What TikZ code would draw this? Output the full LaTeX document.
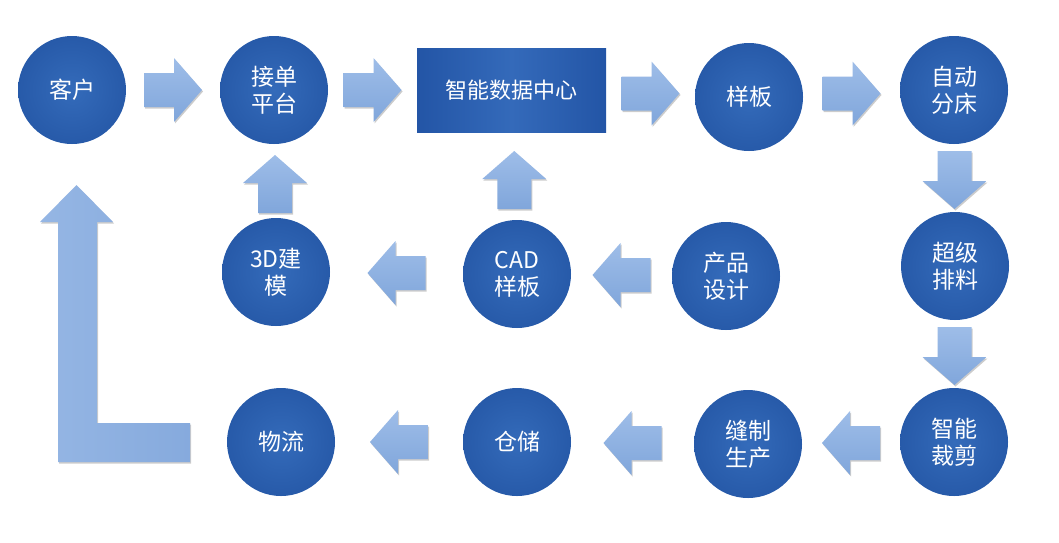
\documentclass[tikz,border=0pt]{standalone}
\usepackage{fontspec}
\newfontfamily\cjk{Noto Sans CJK SC}
\usetikzlibrary{calc,shadows}
\definecolor{cin}{HTML}{346BBA}
\definecolor{cout}{HTML}{275AA9}
\definecolor{rdark}{HTML}{2355A6}
\definecolor{rlight}{HTML}{346ABA}
\definecolor{ain}{HTML}{9EBDE8}
\definecolor{aout}{HTML}{80A6DB}
\definecolor{lin}{HTML}{95B6E4}
\definecolor{lout}{HTML}{86AADD}
\tikzset{
  circ/.style={circle, minimum size=108pt, inner sep=0pt, inner color=cin, outer color=cout,
    text=white, font=\cjk\fontsize{23}{27}\selectfont, align=center},
  databox/.style={rectangle, minimum width=189pt, minimum height=84pt, inner sep=0pt,
    left color=rdark, right color=rdark, middle color=rlight,
    text=white, font=\cjk\fontsize{22}{27}\selectfont},
  arrowfill/.style={top color=ain, bottom color=aout,
    drop shadow={shadow xshift=1pt, shadow yshift=-1.5pt, fill=black, opacity=0.2}},
  barrow/.pic={\path[arrowfill] (-29,-17) -- (1,-17) -- (1,-32) -- (29,0) -- (1,32) -- (1,17) -- (-29,17) -- cycle;}
}
\begin{document}
\begin{tikzpicture}[x=1pt,y=-1pt]
\path[use as bounding box, fill=white] (0,0) rectangle (1059,542);

% nodes
\node[circ] (kh) at (72,90) {客户};
\node[circ] (jd) at (274,90) {接单\\平台};
\node[databox] (data) at (511.5,90) {智能数据中心};
\node[circ] (yb) at (749,97) {样板};
\node[circ] (zd) at (954,90) {自动\\分床};

\node[circ] (jm) at (276,272) {3D建\\模};
\node[circ] (cad) at (517,274) {CAD\\样板};
\node[circ] (cp) at (726,276) {产品\\设计};
\node[circ] (cj) at (955,266) {超级\\排料};

\node[circ] (wl) at (281,442) {物流};
\node[circ] (cc) at (517,442) {仓储};
\node[circ] (fz) at (748,444) {缝制\\生产};
\node[circ] (zn) at (954,442) {智能\\裁剪};

% block arrows between nodes
\pic at ($(kh.east)!0.5!(jd.west)$) {barrow};
\pic at ($(jd.east)!0.5!(data.west)$) {barrow};
\pic at ($(data.east)!0.5!(yb.west)$) {barrow};
\pic at ($(yb.east)!0.5!(zd.west)$) {barrow};
\pic[rotate=-90] at ($(zd.south)!0.5!(cj.north)+(0,2)$) {barrow};
\pic[rotate=-90] at ($(cj.south)!0.5!(zn.north)+(0,2)$) {barrow};
\pic[rotate=180] at ($(zn.west)!0.5!(fz.east)$) {barrow};
\pic[rotate=180] at ($(fz.west)!0.5!(cc.east)$) {barrow};
\pic[rotate=180] at ($(cc.west)!0.5!(wl.east)$) {barrow};
\pic[rotate=180] at ($(cp.west)!0.5!(cad.east)$) {barrow};
\pic[rotate=180] at ($(cad.west)!0.5!(jm.east)$) {barrow};
\pic[rotate=90] at ($(jm.north)!0.5!(jd.south)+(0,3)$) {barrow};
\pic[rotate=90] at ($(cad.north)!0.5!(data.south)+(0,4)$) {barrow};

% L-shaped return arrow from 物流 to 客户
\path[left color=lin, right color=lout,
  drop shadow={shadow xshift=1pt, shadow yshift=-1.5pt, fill=black, opacity=0.2}]
  (58,462) -- (58,222) -- (40,222) -- (76.5,185) -- (113,222) -- (97,222)
  -- (97,423) -- (190,423) -- (190,462) -- cycle;
\end{tikzpicture}
\end{document}
